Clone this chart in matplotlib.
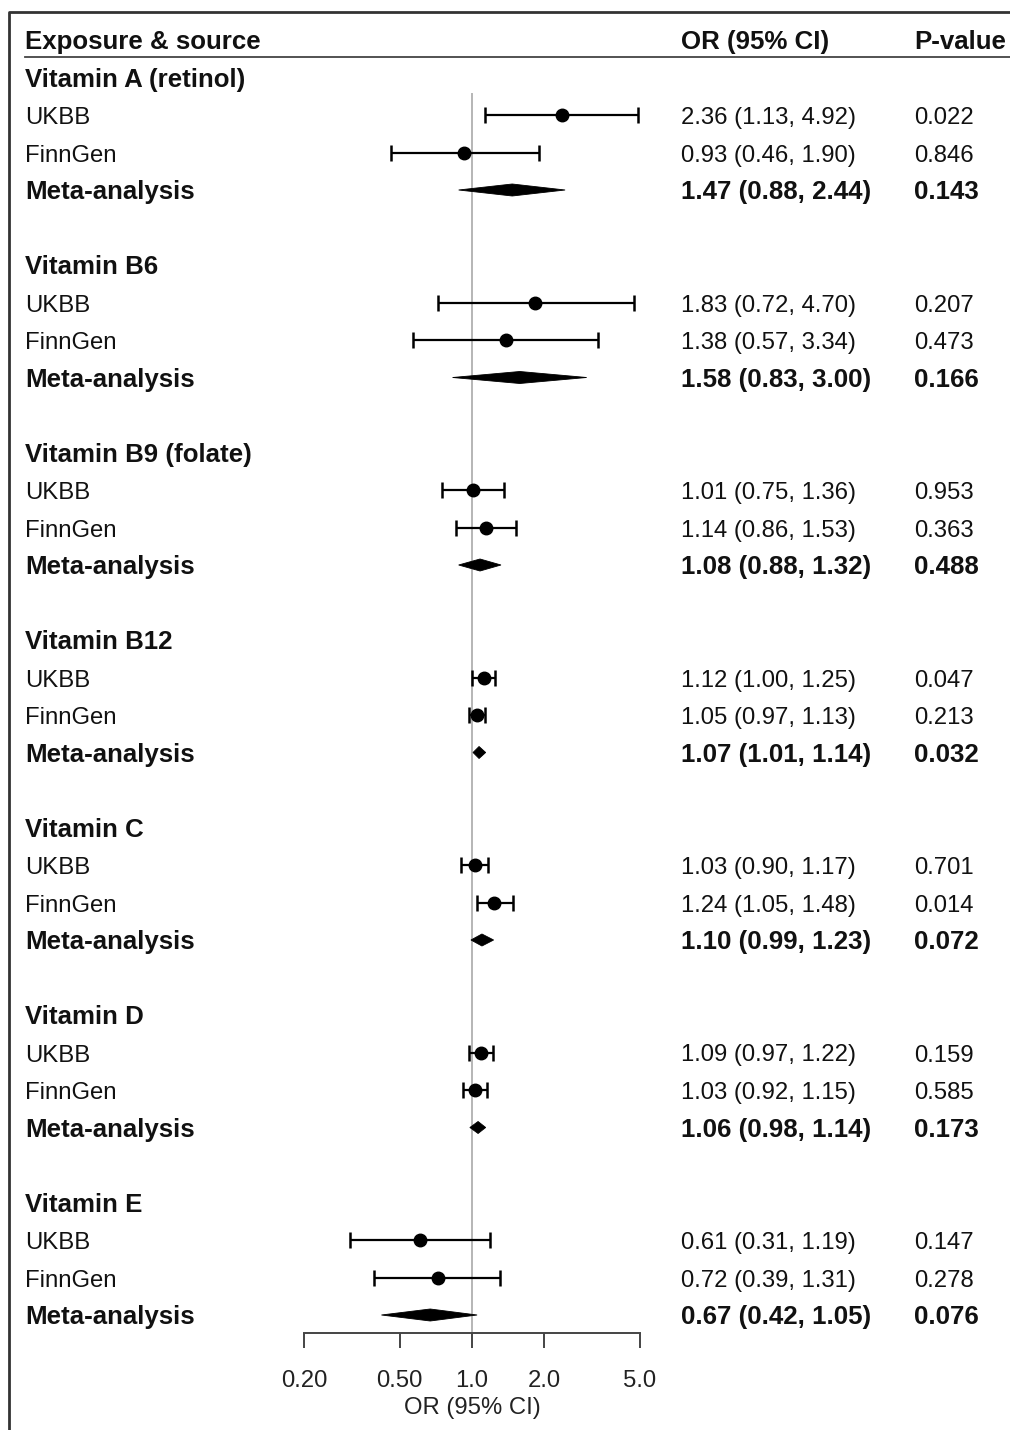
import matplotlib
matplotlib.use("Agg")
import matplotlib.pyplot as plt
from matplotlib.lines import Line2D
from matplotlib.transforms import blended_transform_factory

plt.rcParams['font.family'] = ['Liberation Sans', 'DejaVu Sans']

# ---- data ----
exposures = ["Vitamin A (retinol)", "Vitamin B6", "Vitamin B9 (folate)",
             "Vitamin B12", "Vitamin C", "Vitamin D", "Vitamin E"]
sources = ["UKBB", "FinnGen", "Meta-analysis"]

or_est = [[2.36, 0.93, 1.47], [1.83, 1.38, 1.58], [1.01, 1.14, 1.08],
          [1.12, 1.05, 1.07], [1.03, 1.24, 1.10], [1.09, 1.03, 1.06],
          [0.61, 0.72, 0.67]]
ci_low = [[1.13, 0.46, 0.88], [0.72, 0.57, 0.83], [0.75, 0.86, 0.88],
          [1.00, 0.97, 1.01], [0.90, 1.05, 0.99], [0.97, 0.92, 0.98],
          [0.31, 0.39, 0.42]]
ci_high = [[4.92, 1.90, 2.44], [4.70, 3.34, 3.00], [1.36, 1.53, 1.32],
           [1.25, 1.13, 1.14], [1.17, 1.48, 1.23], [1.22, 1.15, 1.14],
           [1.19, 1.31, 1.05]]
p_values = [["0.022", "0.846", "0.143"], ["0.207", "0.473", "0.166"],
            ["0.953", "0.363", "0.488"], ["0.047", "0.213", "0.032"],
            ["0.701", "0.014", "0.072"], ["0.159", "0.585", "0.173"],
            ["0.147", "0.278", "0.076"]]

tick_values = [0.2, 0.5, 1.0, 2.0, 5.0]
tick_labels = ["0.20", "0.50", "1.0", "2.0", "5.0"]

# ---- layout ----
W, H = 1010, 1430
fig = plt.figure(figsize=(W / 100, H / 100), dpi=100)
row_px = 37.5
top_px = 40.0
axis_px = 1333.0
ax_left, ax_right = 304, 640
y_top = -top_px / row_px
y_bottom = (axis_px - top_px) / row_px
ax = fig.add_axes([ax_left / W, 1 - axis_px / H, (ax_right - ax_left) / W, axis_px / H])
ax.set_xscale('log')
ax.set_xlim(0.2, 5.0)
ax.set_ylim(y_bottom, y_top)
ax.patch.set_alpha(0)

fs = 17.2      # regular text
fs_b = 18.6    # bold text
ink = '#111111'
bl = 0.24  # baseline offset (rows) so text is centred on each row

# reference line at OR = 1
ax.plot([1.0, 1.0], [1.45, y_bottom], color='#b5b5b5', lw=1.4, zorder=1,
        clip_on=False)

tr = blended_transform_factory(fig.transFigure, ax.transData)
x_lab, x_or, x_p = 25 / W, 681 / W, 914 / W


def cell(x, row, s, bold=False):
    ax.text(x, row + bl, s, transform=tr, fontsize=fs_b if bold else fs,
            fontweight='bold' if bold else 'normal', color=ink,
            va='baseline', clip_on=False)


# header
cell(x_lab, 0, "Exposure & source", True)
cell(x_or, 0, "OR (95% CI)", True)
cell(x_p, 0, "P-value", True)

dh = 6.0 / row_px  # half height of diamond
for g, name in enumerate(exposures):
    r0 = 1 + 5 * g
    cell(x_lab, r0, name, True)
    for k, src in enumerate(sources):
        r = r0 + 1 + k
        est, lo, hi = or_est[g][k], ci_low[g][k], ci_high[g][k]
        bold = (k == 2)
        cell(x_lab, r, src, bold)
        cell(x_or, r, f"{est:.2f} ({lo:.2f}, {hi:.2f})", bold)
        cell(x_p, r, p_values[g][k], bold)
        if k < 2:
            ax.errorbar([est], [r], xerr=[[est - lo], [hi - est]], fmt='o',
                        color='black', ms=9, elinewidth=1.6, capsize=6,
                        capthick=1.8, zorder=3, clip_on=False)
        else:
            ax.fill([lo, est, hi, est], [r, r - dh, r, r + dh], color='black',
                    lw=0.6, zorder=3, clip_on=False)

# x axis
for s in ['top', 'right', 'left']:
    ax.spines[s].set_visible(False)
ax.spines['bottom'].set_color('#444444')
ax.spines['bottom'].set_linewidth(1.4)
ax.set_yticks([])
ax.set_xticks(tick_values)
ax.set_xticklabels(tick_labels)
ax.xaxis.set_minor_locator(matplotlib.ticker.NullLocator())
ax.tick_params(axis='x', length=11, width=1.4, color='#444444', pad=15.5,
               labelsize=fs, labelcolor='#222222')
ax.set_xlabel("OR (95% CI)", fontsize=fs, color='#222222', labelpad=4)

# header underline and outer frame
fig.add_artist(Line2D([25 / W, 1.0], [1 - 57 / H, 1 - 57 / H],
                      transform=fig.transFigure, color='#444444', lw=1.3))
fig.add_artist(Line2D([9 / W, 9 / W, 1.0], [0.0, 1 - 12 / H, 1 - 12 / H],
                      transform=fig.transFigure, color='#333333', lw=2.0))

fig.savefig("out.png", dpi=100, facecolor='white')
